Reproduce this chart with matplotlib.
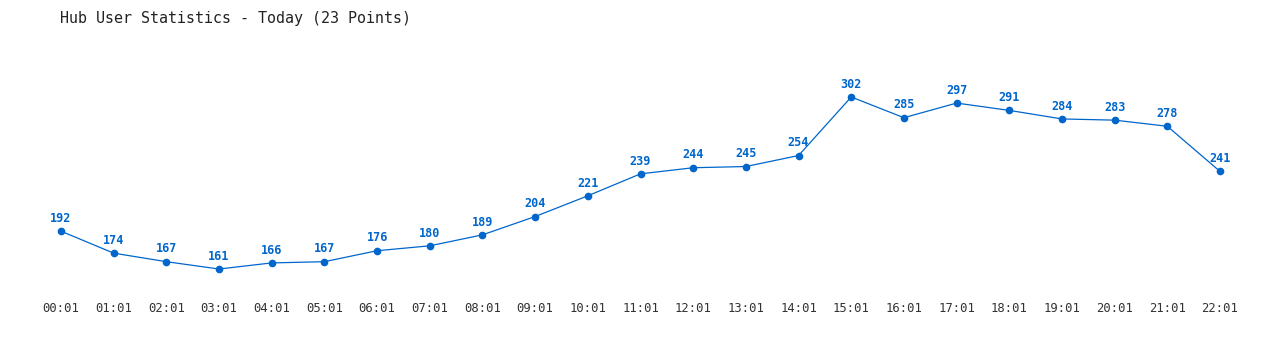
import matplotlib
matplotlib.use("Agg")
import matplotlib.pyplot as plt

# hourly samples
hours = ["00:01", "01:01", "02:01", "03:01", "04:01", "05:01", "06:01", "07:01",
         "08:01", "09:01", "10:01", "11:01", "12:01", "13:01", "14:01", "15:01",
         "16:01", "17:01", "18:01", "19:01", "20:01", "21:01", "22:01"]
users = [192, 174, 167, 161, 166, 167, 176, 180, 189, 204, 221, 239,
         244, 245, 254, 302, 285, 297, 291, 284, 283, 278, 241]

blue = "#0066cc"
W, H = 1280, 350

fig = plt.figure(figsize=(W / 100, H / 100), dpi=100)
# axes box in pixel coords: x 61..1220, y 60..290 (from top)
ax = fig.add_axes([61 / W, (H - 290) / H, (1220 - 61) / W, (290 - 60) / H])

x = list(range(len(users)))
ax.plot(x, users, color=blue, lw=0.9, marker="o", ms=4.5, mec=blue, mfc=blue,
        clip_on=False)

for xi, v in zip(x, users):
    ax.annotate(str(v), (xi, v), xytext=(0, 4.5), textcoords="offset points",
                ha="center", va="bottom", color=blue, fontsize=8.5,
                fontweight="bold", family="DejaVu Sans Mono")

ax.set_xlim(0, len(users) - 1)
ax.set_ylim(143.8, 332.3)
ax.set_xticks(x)
ax.set_xticklabels(hours, family="DejaVu Sans Mono", fontsize=8.8, color="#333333")
ax.tick_params(axis="x", length=0, pad=9)
ax.set_yticks([])
for s in ax.spines.values():
    s.set_visible(False)

fig.text(60 / W, 1 - 18 / H, "Hub User Statistics - Today (23 Points)",
         family="DejaVu Sans Mono", fontsize=10.8,
         color="#222222", ha="left", va="center")

fig.savefig("out.png", dpi=100)
